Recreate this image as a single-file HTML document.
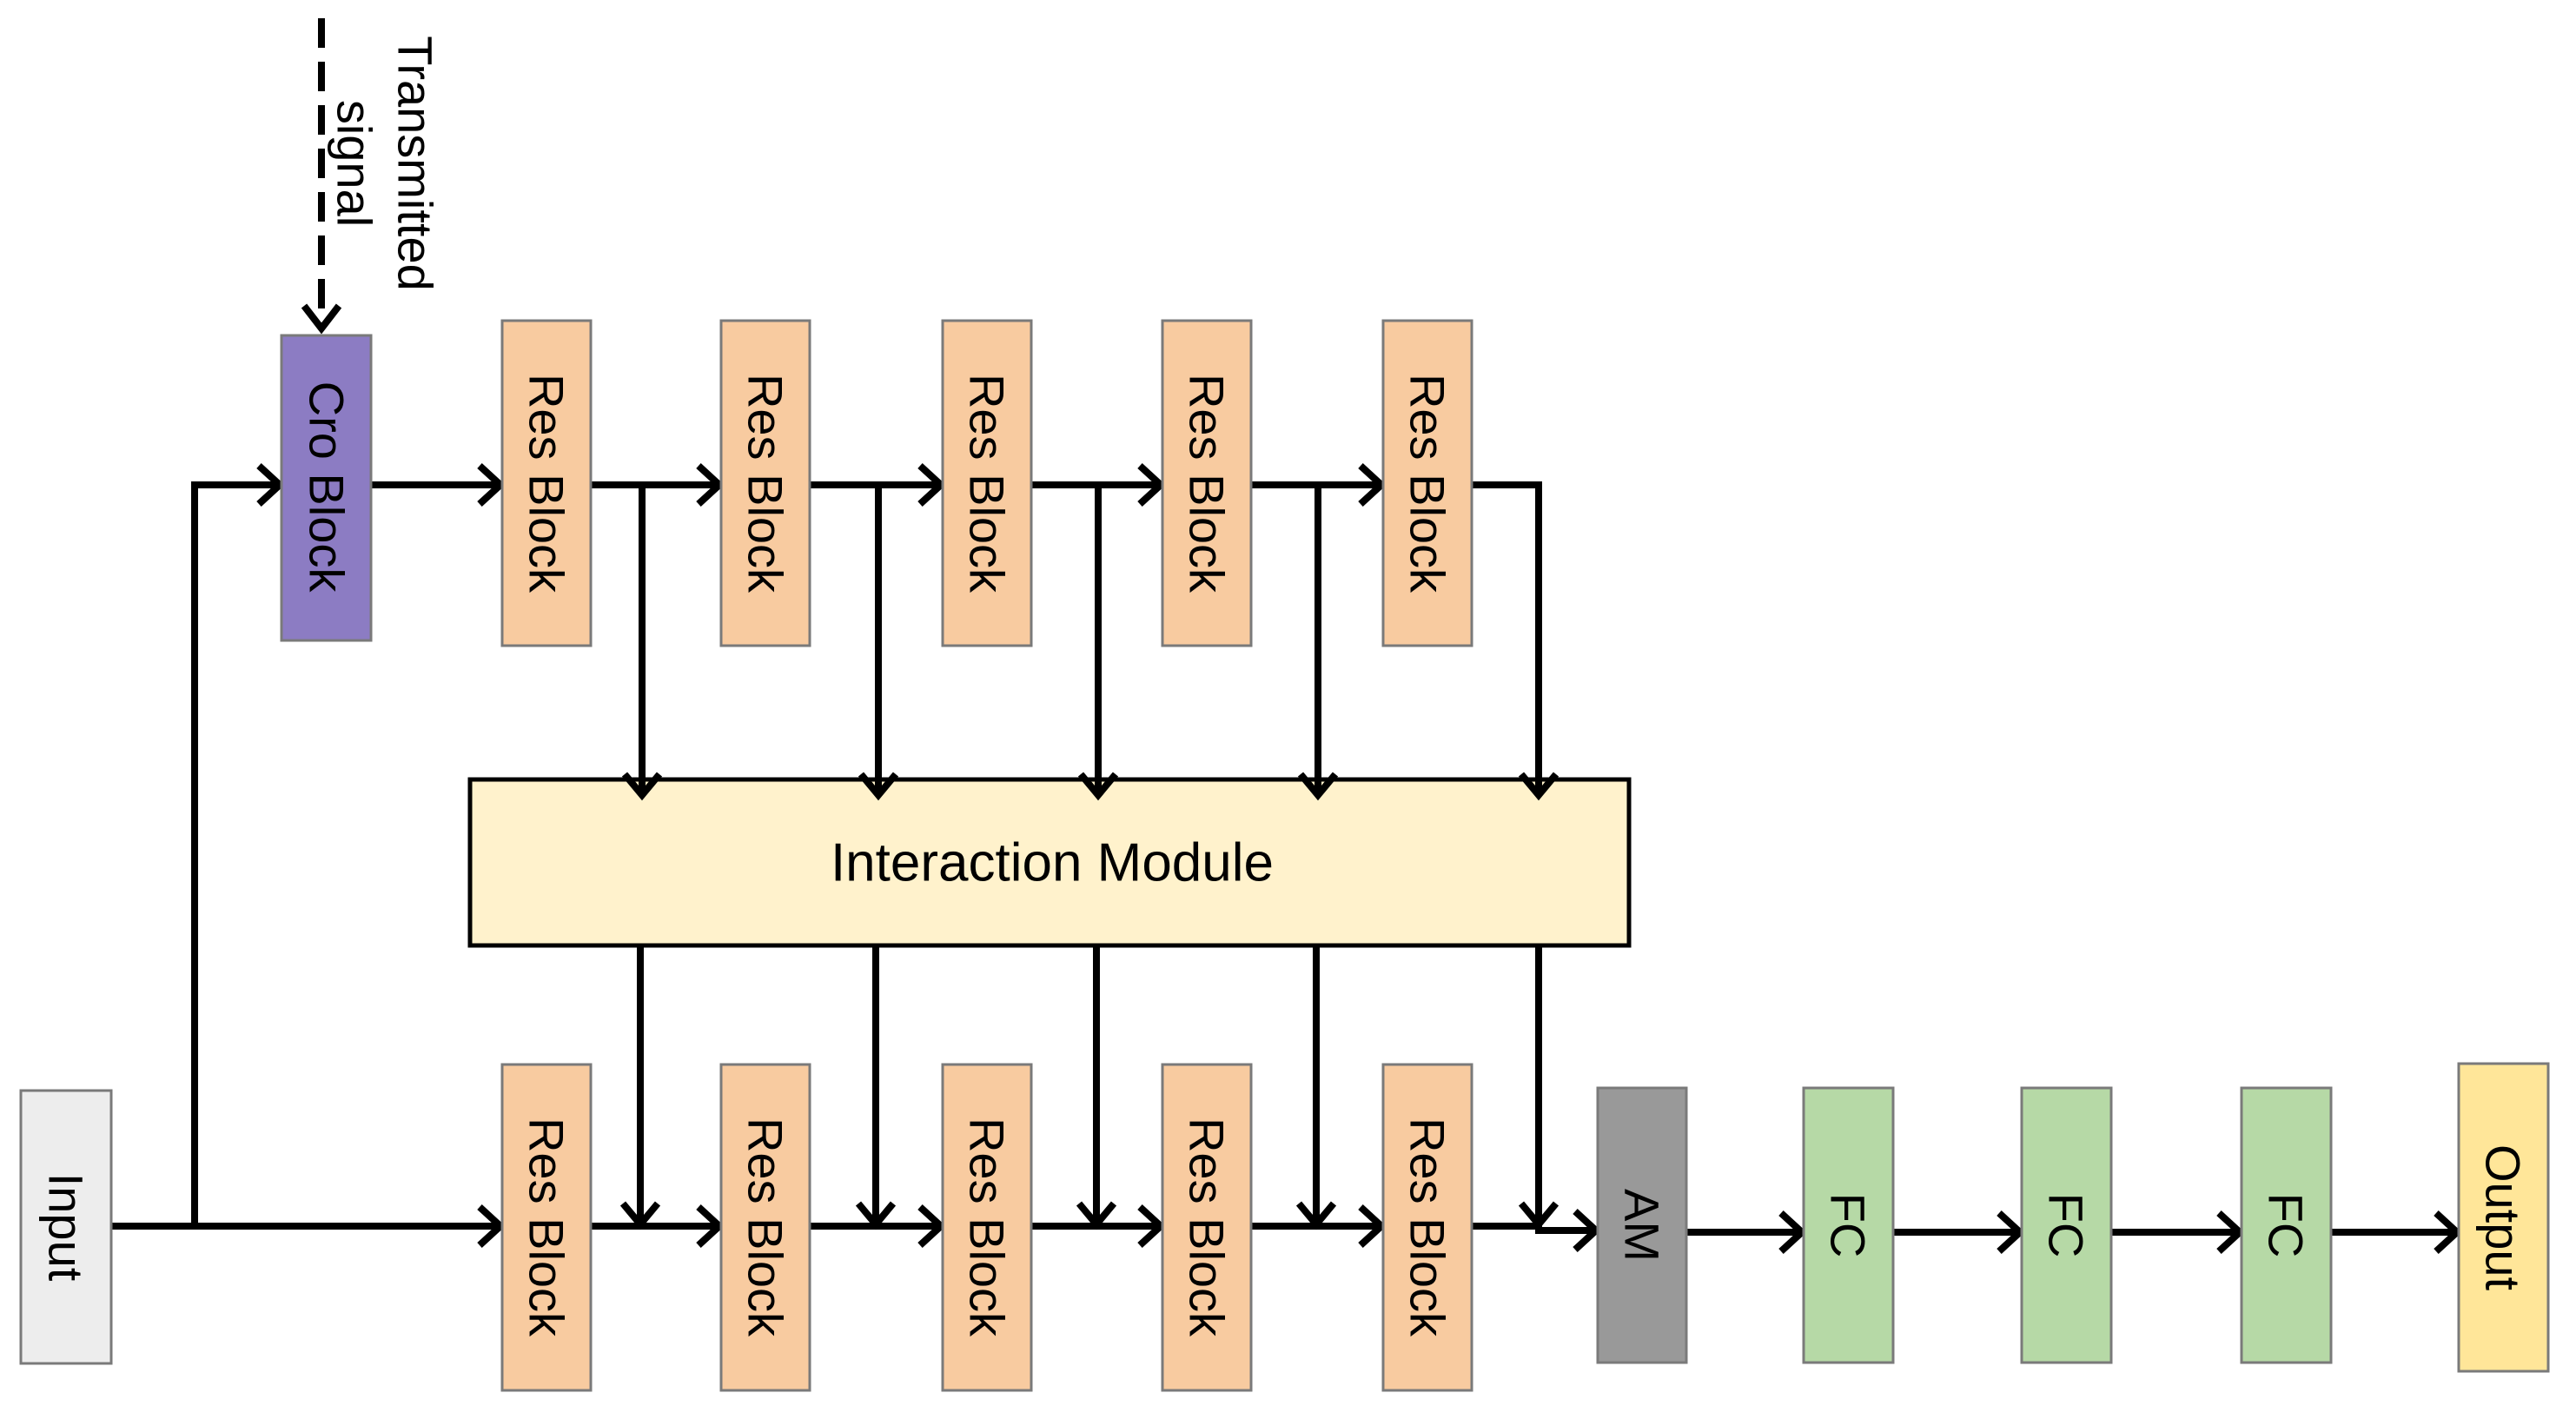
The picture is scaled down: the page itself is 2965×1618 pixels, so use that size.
<!DOCTYPE html>
<html><head><meta charset="utf-8"><style>
html,body{margin:0;padding:0;background:#fff;}
svg{display:block;}
text{font-family:"Liberation Sans",Arial,sans-serif;fill:#000;}
</style></head><body>
<svg width="2965" height="1618" viewBox="0 0 2965 1618" xmlns="http://www.w3.org/2000/svg">
<rect x="541" y="897" width="1334" height="191" fill="#FFF2CC" stroke="#000" stroke-width="5"/>
<text x="1211" y="993" font-size="62" text-anchor="middle" dominant-baseline="central">Interaction Module</text>
<g stroke="#000" stroke-width="8" fill="none" stroke-linejoin="miter" stroke-linecap="butt">
<line x1="370" y1="21" x2="370" y2="375" stroke-dasharray="34,16"/>
<polyline points="350,352 370,378 390,352"/>
<polyline points="224,1411 224,558 320,558"/>
<polyline points="298,536 322,558 298,580"/>
<line x1="427" y1="558" x2="574" y2="558"/><polyline points="552,536 576,558 552,580"/>
<line x1="680" y1="558" x2="826" y2="558"/><polyline points="804,536 828,558 804,580"/>
<line x1="932" y1="558" x2="1081" y2="558"/><polyline points="1059,536 1083,558 1059,580"/>
<line x1="1187" y1="558" x2="1334" y2="558"/><polyline points="1312,536 1336,558 1312,580"/>
<line x1="1440" y1="558" x2="1588" y2="558"/><polyline points="1566,536 1590,558 1566,580"/>
<polyline points="1694,558 1771,558 1771,915"/>
<line x1="739" y1="558" x2="739" y2="915"/>
<line x1="1011" y1="558" x2="1011" y2="915"/>
<line x1="1264" y1="558" x2="1264" y2="915"/>
<line x1="1517" y1="558" x2="1517" y2="915"/>
<polyline points="719,891 739,915 759,891"/>
<polyline points="991,891 1011,915 1031,891"/>
<polyline points="1244,891 1264,915 1284,891"/>
<polyline points="1497,891 1517,915 1537,891"/>
<polyline points="1751,891 1771,915 1791,891"/>
<line x1="737" y1="1086" x2="737" y2="1409"/>
<line x1="1008" y1="1086" x2="1008" y2="1409"/>
<line x1="1262" y1="1086" x2="1262" y2="1409"/>
<line x1="1515" y1="1086" x2="1515" y2="1409"/>
<line x1="1771" y1="1086" x2="1771" y2="1409"/>
<polyline points="717,1385 737,1409 757,1385"/>
<polyline points="988,1385 1008,1409 1028,1385"/>
<polyline points="1242,1385 1262,1409 1282,1385"/>
<polyline points="1495,1385 1515,1409 1535,1385"/>
<polyline points="1751,1385 1771,1409 1791,1385"/>
<line x1="128" y1="1411" x2="574" y2="1411"/><polyline points="552,1389 576,1411 552,1433"/>
<line x1="680" y1="1411" x2="826" y2="1411"/><polyline points="804,1389 828,1411 804,1433"/>
<line x1="932" y1="1411" x2="1081" y2="1411"/><polyline points="1059,1389 1083,1411 1059,1433"/>
<line x1="1187" y1="1411" x2="1334" y2="1411"/><polyline points="1312,1389 1336,1411 1312,1433"/>
<line x1="1440" y1="1411" x2="1588" y2="1411"/><polyline points="1566,1389 1590,1411 1566,1433"/>
<polyline points="1694,1411 1771,1411 1771,1416 1835,1416"/><polyline points="1813,1394 1837,1416 1813,1438"/>
<line x1="1941" y1="1418" x2="2072" y2="1418"/><polyline points="2050,1396 2074,1418 2050,1440"/>
<line x1="2179" y1="1418" x2="2323" y2="1418"/><polyline points="2301,1396 2325,1418 2301,1440"/>
<line x1="2430" y1="1418" x2="2576" y2="1418"/><polyline points="2554,1396 2578,1418 2554,1440"/>
<line x1="2683" y1="1418" x2="2826" y2="1418"/><polyline points="2804,1396 2828,1418 2804,1440"/>
</g>
<g stroke="#7a7a7a" stroke-width="3">
<rect x="324" y="386" width="103" height="351" fill="#8C7CC3"/>
<rect x="578" y="369" width="102" height="374" fill="#F8CBA0"/>
<rect x="830" y="369" width="102" height="374" fill="#F8CBA0"/>
<rect x="1085" y="369" width="102" height="374" fill="#F8CBA0"/>
<rect x="1338" y="369" width="102" height="374" fill="#F8CBA0"/>
<rect x="1592" y="369" width="102" height="374" fill="#F8CBA0"/>
<rect x="578" y="1225" width="102" height="375" fill="#F8CBA0"/>
<rect x="830" y="1225" width="102" height="375" fill="#F8CBA0"/>
<rect x="1085" y="1225" width="102" height="375" fill="#F8CBA0"/>
<rect x="1338" y="1225" width="102" height="375" fill="#F8CBA0"/>
<rect x="1592" y="1225" width="102" height="375" fill="#F8CBA0"/>
<rect x="24" y="1255" width="104" height="314" fill="#EDEDED"/>
<rect x="1839" y="1252" width="102" height="316" fill="#999999"/>
<rect x="2076" y="1252" width="103" height="316" fill="#B6D9A6"/>
<rect x="2327" y="1252" width="103" height="316" fill="#B6D9A6"/>
<rect x="2580" y="1252" width="103" height="316" fill="#B6D9A6"/>
<rect x="2830" y="1224" width="103" height="354" fill="#FFE699"/>
</g>
<g font-size="56" text-anchor="middle" dominant-baseline="central">
<text transform="translate(376,560) rotate(90)">Cro Block</text>
<text transform="translate(629,556) rotate(90)">Res Block</text>
<text transform="translate(881,556) rotate(90)">Res Block</text>
<text transform="translate(1136,556) rotate(90)">Res Block</text>
<text transform="translate(1389,556) rotate(90)">Res Block</text>
<text transform="translate(1643,556) rotate(90)">Res Block</text>
<text transform="translate(629,1412) rotate(90)">Res Block</text>
<text transform="translate(881,1412) rotate(90)">Res Block</text>
<text transform="translate(1136,1412) rotate(90)">Res Block</text>
<text transform="translate(1389,1412) rotate(90)">Res Block</text>
<text transform="translate(1643,1412) rotate(90)">Res Block</text>
<text transform="translate(76,1412) rotate(90)">Input</text>
<text transform="translate(1890,1410) rotate(90)">AM</text>
<text transform="translate(2127,1410) rotate(90)">FC</text>
<text transform="translate(2378,1410) rotate(90)">FC</text>
<text transform="translate(2631,1410) rotate(90)">FC</text>
<text transform="translate(2881,1401) rotate(90)">Output</text>
<text transform="translate(478,188) rotate(90)">Transmitted</text>
<text transform="translate(408,188) rotate(90)">signal</text>
</g>
</svg>
</body></html>
